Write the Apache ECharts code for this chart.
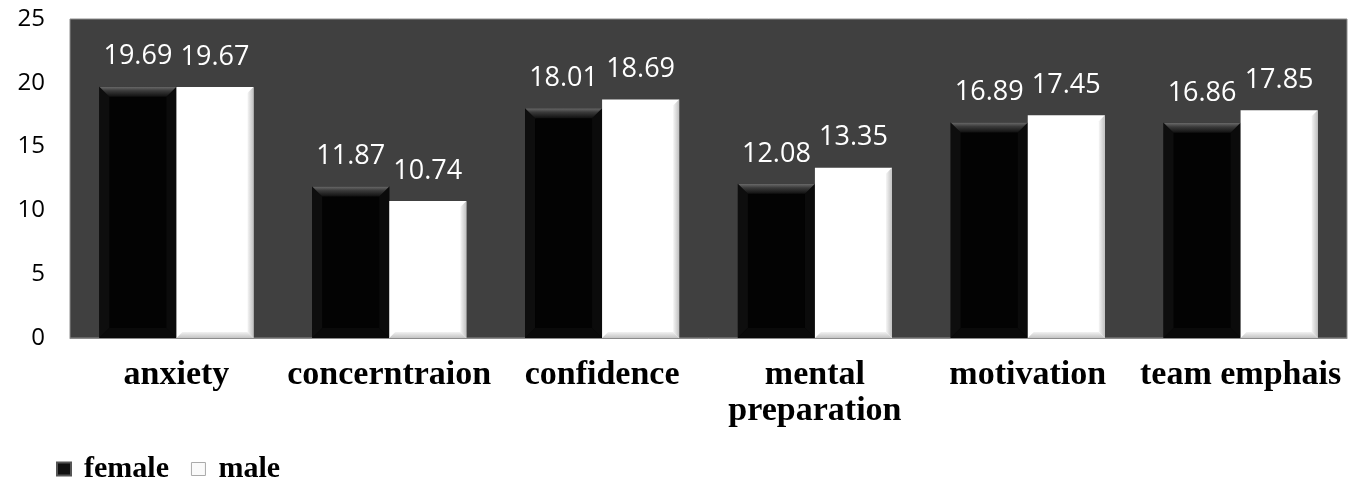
<!DOCTYPE html>
<html>
<head>
<meta charset="utf-8">
<script src="https://cdn.jsdelivr.net/npm/echarts@6/dist/echarts.min.js"></script>
<style>
  html, body { margin: 0; padding: 0; background: #fff; }
  #chart { width: 1352px; height: 477px; }
</style>
</head>
<body>
<div id="chart"></div>
<script>
// Mean scores per mental skill, split by gender
const categories = ['anxiety', 'concerntraion', 'confidence', 'mental\npreparation', 'motivation', 'team emphais'];
const femaleValues = [19.69, 11.87, 18.01, 12.08, 16.89, 16.86];
const maleValues = [19.67, 10.74, 18.69, 13.35, 17.45, 17.85];
const yTicks = [0, 5, 10, 15, 20, 25];

const BAR_SHARE = 0.362;   // width of one bar as a share of the category band
const BEVEL = 10;          // bevel depth in px

// Bevelled bar with its value printed above it.
function makeRenderer(side) {
  return function (params, api) {
    const cat = api.value(0);
    const val = api.value(1);
    const base = api.coord([cat, 0]);
    const top = api.coord([cat, val]);
    const band = api.size([1, 0])[0];
    const w = band * BAR_SHARE;
    const x = side === 0 ? base[0] - w : base[0];
    const y = top[1];
    const h = base[1] - top[1];
    const b = Math.min(BEVEL, w / 4, h / 4);
    const children = [];
    if (side === 0) {
      // dark bar: lighter top facet, barely visible side facets
      children.push({ type: 'rect', shape: { x: x, y: y, width: w, height: h }, style: { fill: '#030303' } });
      children.push({ type: 'polygon', shape: { points: [[x, y], [x + b, y + b], [x + b, y + h - b], [x, y + h]] }, style: { fill: '#0e0e0e' } });
      children.push({ type: 'polygon', shape: { points: [[x + w, y], [x + w - b, y + b], [x + w - b, y + h - b], [x + w, y + h]] }, style: { fill: '#0b0b0b' } });
      children.push({ type: 'polygon', shape: { points: [[x, y + h], [x + b, y + h - b], [x + w - b, y + h - b], [x + w, y + h]] }, style: { fill: '#0a0a0a' } });
      children.push({ type: 'polygon', shape: { points: [[x, y], [x + w, y], [x + w - b, y + b], [x + b, y + b]] },
        style: { fill: { type: 'linear', x: 0, y: 0, x2: 0, y2: 1, colorStops: [{ offset: 0, color: '#6a6a6a' }, { offset: 0.4, color: '#3a3a3a' }, { offset: 1, color: '#101010' }] } } });
    } else {
      // white bar: soft grey shading along the right and bottom edges
      const s = b * 0.6;
      children.push({ type: 'rect', shape: { x: x, y: y, width: w, height: h }, style: { fill: '#ffffff' } });
      children.push({ type: 'polygon', shape: { points: [[x + w, y], [x + w - s, y + s], [x + w - s, y + h - s], [x + w, y + h]] },
        style: { fill: { type: 'linear', x: 0, y: 0, x2: 1, y2: 0, colorStops: [{ offset: 0, color: '#f6f6f6' }, { offset: 1, color: '#c0c0c0' }] } } });
      children.push({ type: 'polygon', shape: { points: [[x, y + h], [x + s, y + h - s], [x + w - s, y + h - s], [x + w, y + h]] },
        style: { fill: { type: 'linear', x: 0, y: 0, x2: 0, y2: 1, colorStops: [{ offset: 0, color: '#f2f2f2' }, { offset: 1, color: '#c4c4c4' }] } } });
    }
    children.push({
      type: 'text',
      style: {
        text: val.toFixed(2), x: x + w / 2, y: y - 30,
        align: 'center', verticalAlign: 'middle',
        fill: '#ffffff', font: '27px "Open Sans", sans-serif'
      }
    });
    return { type: 'group', children: children };
  };
}

const chart = echarts.init(document.getElementById('chart'), null, { renderer: 'canvas' });
chart.setOption({
  animation: false,
  grid: {
    left: 70, right: 5, top: 19, bottom: 139,
    show: true, backgroundColor: '#404040', borderColor: '#8c8c8c', borderWidth: 1
  },
  legend: {
    left: 51, top: 449, itemWidth: 14, itemHeight: 13, itemGap: 22,
    textStyle: { fontFamily: '"Liberation Serif", "Times New Roman", serif', fontWeight: 'bold', fontSize: 30, color: '#000', padding: [0, 0, 0, 8] },
    data: [
      { name: 'female', icon: 'rect', itemStyle: { color: '#111', borderColor: '#555', borderWidth: 2 } },
      { name: 'male', icon: 'rect', itemStyle: { color: '#fafafa', borderColor: '#aaa', borderWidth: 1 } }
    ]
  },
  xAxis: {
    type: 'category',
    data: categories,
    axisLine: { show: true, lineStyle: { color: '#8c8c8c', width: 1 } },
    axisTick: { show: false },
    axisLabel: {
      interval: 0, margin: 19, lineHeight: 36,
      fontFamily: '"Liberation Serif", "Times New Roman", serif', fontWeight: 'bold', fontSize: 34, color: '#000'
    }
  },
  yAxis: {
    type: 'value', min: yTicks[0], max: yTicks[yTicks.length - 1], interval: 5,
    axisLine: { show: false }, axisTick: { show: false }, splitLine: { show: false },
    axisLabel: { margin: 25, fontFamily: '"Open Sans", sans-serif', fontSize: 24, color: '#000' }
  },
  series: [
    { name: 'female', type: 'custom', renderItem: makeRenderer(0), itemStyle: { color: '#111' },
      data: femaleValues.map((v, i) => [i, v]), encode: { x: 0, y: 1 } },
    { name: 'male', type: 'custom', renderItem: makeRenderer(1), itemStyle: { color: '#fafafa' },
      data: maleValues.map((v, i) => [i, v]), encode: { x: 0, y: 1 } }
  ]
});
</script>
</body>
</html>
